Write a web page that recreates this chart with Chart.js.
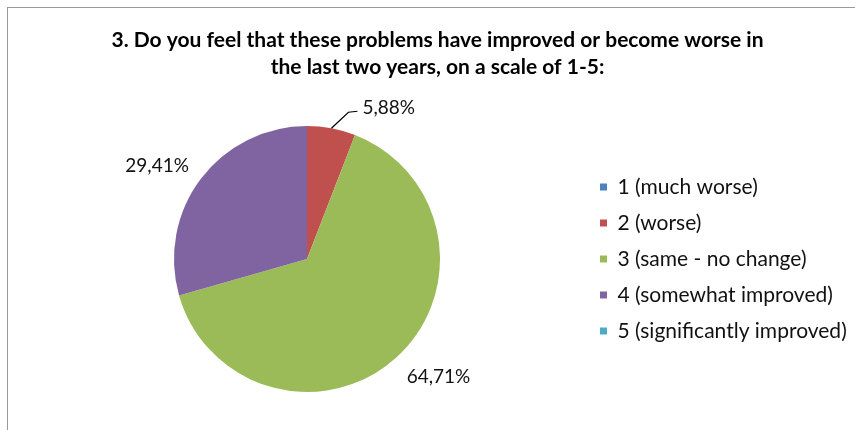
<!DOCTYPE html>
<html>
<head>
<meta charset="utf-8">
<script src="https://cdn.jsdelivr.net/npm/chart.js@4.4.1/dist/chart.umd.min.js"></script>
<style>
  html, body { margin: 0; padding: 0; background: #fff; }
  #wrap { position: relative; width: 855px; height: 430px; overflow: hidden; }
  #frame { position: absolute; left: 7px; top: 7px; right: -2px; bottom: -2px; border-left: 1px solid #9a9a9a; border-top: 1px solid #9a9a9a; }
  canvas { position: absolute; left: 0; top: 0; }
</style>
</head>
<body>
<div id="wrap">
  <div id="frame"></div>
  <canvas id="pie" width="855" height="430"></canvas>
</div>
<script>
// survey answers
const categories = ['1 (much worse)', '2 (worse)', '3 (same - no change)', '4 (somewhat improved)', '5 (significantly improved)'];
const shares = [0, 5.88, 64.71, 29.41, 0];
const sliceColors = ['#4F81BD', '#C0504D', '#9BBB59', '#8064A2', '#4BACC6'];
const titleLines = ['3. Do you feel that these problems have improved or become worse in', 'the last two years, on a scale of 1-5:'];

const FONT = 'Lato, Carlito, Calibri, "Open Sans", sans-serif';

function fmtPct(v) {
  return v.toFixed(2).replace('.', ',') + '%';
}

// outside-end labels, the small red slice gets a leader line
const pieLabels = {
  id: 'pieLabels',
  afterDatasetsDraw(chart) {
    const ctx = chart.ctx;
    const meta = chart.getDatasetMeta(0);
    ctx.save();
    ctx.font = '19px ' + FONT;
    ctx.fillStyle = '#111';
    meta.data.forEach((arc, i) => {
      const v = shares[i];
      if (!v) return;
      const p = arc.getProps(['x', 'y', 'startAngle', 'endAngle', 'outerRadius'], true);
      const mid = (p.startAngle + p.endAngle) / 2;
      const dx = Math.cos(mid), dy = Math.sin(mid);
      ctx.textBaseline = 'middle';
      if (v < 10) {
        const ex = p.x + dx * p.outerRadius, ey = p.y + dy * p.outerRadius;
        const kx = ex + 17, ky = ey - 16;
        ctx.strokeStyle = '#000';
        ctx.lineWidth = 1.2;
        ctx.beginPath();
        ctx.moveTo(ex, ey);
        ctx.lineTo(kx, ky);
        ctx.lineTo(kx + 9, ky - 1);
        ctx.stroke();
        ctx.textAlign = 'left';
        ctx.fillText(fmtPct(v), kx + 14, ky - 4);
      } else {
        const r = p.outerRadius + 15;
        ctx.textAlign = dx > 0 ? 'left' : 'right';
        const ax = p.x + dx * r, ay = p.y + dy * r;
        ctx.fillText(fmtPct(v), ax, ay + (dy > 0 ? 9 : -4));
      }
    });
    ctx.restore();
  }
};

new Chart(document.getElementById('pie'), {
  type: 'pie',
  data: {
    labels: categories,
    datasets: [{
      data: shares,
      backgroundColor: sliceColors,
      borderWidth: 0
    }]
  },
  options: {
    responsive: false,
    animation: false,
    layout: { padding: { left: 29, right: 9, top: 0, bottom: 38 } },
    plugins: {
      title: {
        display: true,
        text: titleLines,
        color: '#000',
        font: { family: FONT, size: 21, weight: 'bold', lineHeight: '27px' },
        padding: { top: 26.5, bottom: 45.5 }
      },
      legend: {
        position: 'right',
        align: 'center',
        fullSize: false,
        maxWidth: 261,
        labels: {
          color: '#111',
          font: { family: FONT, size: 21 },
          boxWidth: 7,
          boxHeight: 7,
          padding: 15
        }
      },
      tooltip: { enabled: false }
    }
  },
  plugins: [pieLabels]
});
</script>
</body>
</html>
